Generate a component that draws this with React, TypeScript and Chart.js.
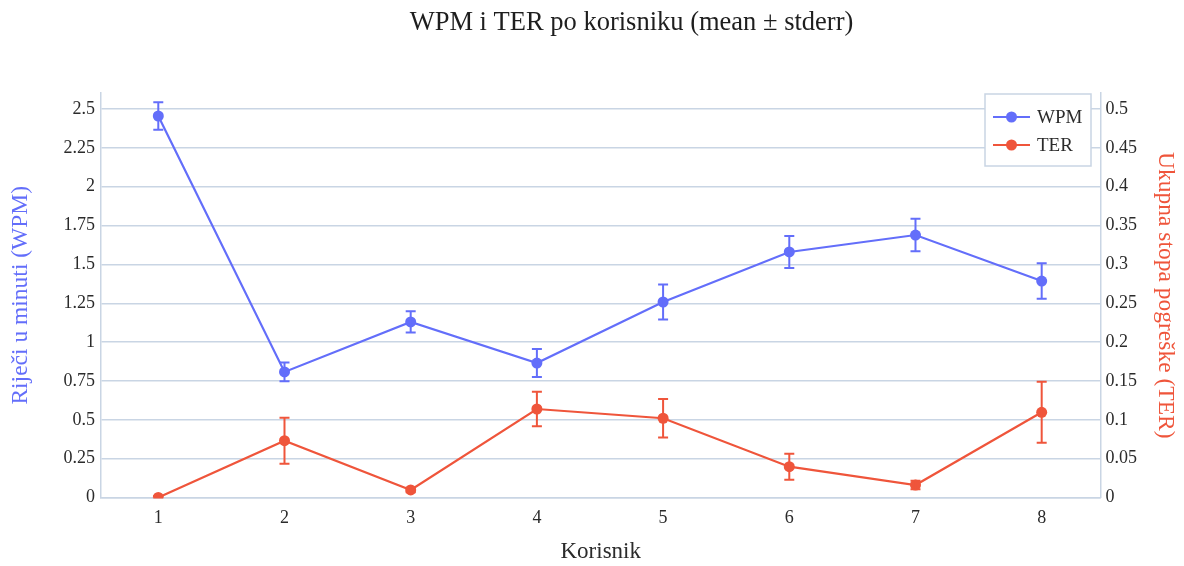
import React, { useEffect, useRef } from "react";
import { Chart, registerables } from "chart.js";

Chart.register(...registerables);

const users = [1, 2, 3, 4, 5, 6, 7, 8];
const wpmMean = [2.455, 0.808, 1.13, 0.865, 1.258, 1.58, 1.689, 1.393];
const wpmErr = [0.088, 0.06, 0.068, 0.09, 0.113, 0.103, 0.105, 0.114];
const terMean = [0.0, 0.0731, 0.0097, 0.1139, 0.102, 0.0397, 0.0161, 0.1097];
const terErr = [0.002, 0.0296, 0.003, 0.0223, 0.0249, 0.0167, 0.0055, 0.0393];
const xTicks = [1, 2, 3, 4, 5, 6, 7, 8];
const wpmTicks = [0, 0.25, 0.5, 0.75, 1, 1.25, 1.5, 1.75, 2, 2.25, 2.5];
const terTicks = [0, 0.05, 0.1, 0.15, 0.2, 0.25, 0.3, 0.35, 0.4, 0.45, 0.5];
const titleText = "WPM i TER po korisniku (mean ± stderr)";

const BLUE = "#636efa";
const RED = "#ef553b";
const GRID = "#c9d5e4";
const FONT = '"Liberation Serif", "Times New Roman", serif';
const TXT = "#2b2b2b";

const fmt = (v: number) => String(+Number(v).toFixed(4));

const errorBars = {
  id: "errorBars",
  afterDatasetsDraw(chart: any) {
    const ctx = chart.ctx;
    const errs = [wpmErr, terErr];
    chart.data.datasets.forEach((ds: any, i: number) => {
      const meta = chart.getDatasetMeta(i);
      const xs = chart.scales[meta.xAxisID];
      const ys = chart.scales[meta.yAxisID];
      ctx.save();
      ctx.strokeStyle = ds.borderColor;
      ctx.lineWidth = 2;
      (ds.data as any[]).forEach((p: any, j: number) => {
        const x = xs.getPixelForValue(p.x);
        const yt = ys.getPixelForValue(p.y + errs[i][j]);
        const yb = ys.getPixelForValue(Math.max(p.y - errs[i][j], ys.min));
        ctx.beginPath();
        ctx.moveTo(x, yt);
        ctx.lineTo(x, yb);
        ctx.moveTo(x - 5, yt);
        ctx.lineTo(x + 5, yt);
        ctx.moveTo(x - 5, yb);
        ctx.lineTo(x + 5, yb);
        ctx.stroke();
      });
      ctx.restore();
    });
  },
};

const boxLegendAndTitle = {
  id: "boxLegendAndTitle",
  afterDraw(chart: any) {
    const ctx = chart.ctx;
    ctx.save();
    ctx.fillStyle = "#1e1e1e";
    ctx.font = `26.5px ${FONT}`;
    ctx.textAlign = "center";
    ctx.textBaseline = "middle";
    ctx.fillText(titleText, 631.5, 23);

    const x0 = 985, y0 = 94, w = 106, h = 72;
    ctx.fillStyle = "#ffffff";
    ctx.fillRect(x0, y0, w, h);
    ctx.strokeStyle = GRID;
    ctx.lineWidth = 1.5;
    ctx.strokeRect(x0, y0, w, h);
    chart.data.datasets.forEach((ds: any, i: number) => {
      const y = y0 + 23 + i * 28;
      ctx.strokeStyle = ds.borderColor;
      ctx.lineWidth = 2;
      ctx.beginPath();
      ctx.moveTo(993, y);
      ctx.lineTo(1030, y);
      ctx.stroke();
      ctx.fillStyle = ds.borderColor;
      ctx.beginPath();
      ctx.arc(1011.5, y, 5.5, 0, Math.PI * 2);
      ctx.fill();
      ctx.fillStyle = TXT;
      ctx.font = `19px ${FONT}`;
      ctx.textAlign = "left";
      ctx.textBaseline = "middle";
      ctx.fillText(ds.label, 1037, y + 1);
    });
    ctx.restore();
  },
};

export default function App() {
  const ref = useRef<HTMLCanvasElement | null>(null);
  useEffect(() => {
    document.body.style.margin = "0";
    if (!ref.current) return;
    const chart = new Chart(ref.current, {
      type: "line",
      data: {
        datasets: [
          {
            label: "WPM",
            data: users.map((u, i) => ({ x: u, y: wpmMean[i] })),
            borderColor: BLUE,
            backgroundColor: BLUE,
            pointBackgroundColor: BLUE,
            pointBorderWidth: 0,
            pointRadius: 5.5,
            borderWidth: 2.2,
            yAxisID: "y",
          },
          {
            label: "TER",
            data: users.map((u, i) => ({ x: u, y: terMean[i] })),
            borderColor: RED,
            backgroundColor: RED,
            pointBackgroundColor: RED,
            pointBorderWidth: 0,
            pointRadius: 5.5,
            borderWidth: 2.2,
            yAxisID: "y1",
          },
        ],
      },
      options: {
        animation: false,
        responsive: true,
        maintainAspectRatio: false,
        layout: { padding: { top: 93, left: 0, right: 0, bottom: 0 } },
        plugins: {
          legend: { display: false },
          tooltip: { enabled: false },
          title: { display: false },
        },
        scales: {
          x: {
            type: "linear",
            min: 0.546,
            max: 8.466,
            afterBuildTicks: (s: any) => {
              s.ticks = xTicks.map((v) => ({ value: v }));
            },
            afterFit: (s: any) => {
              s.height = 68.5;
            },
            grid: { display: false, drawTicks: false },
            border: { display: true, color: GRID, width: 1.5 },
            ticks: {
              color: TXT,
              font: { family: FONT, size: 18 },
              padding: 10,
              callback: (v: any) => fmt(v),
            },
            title: {
              display: true,
              text: "Korisnik",
              color: TXT,
              font: { family: FONT, size: 23 },
              padding: { top: 0, bottom: 0 },
            },
          },
          y: {
            type: "linear",
            position: "left",
            min: 0,
            max: 2.603,
            afterBuildTicks: (s: any) => {
              s.ticks = wpmTicks.map((v) => ({ value: v }));
            },
            afterFit: (s: any) => {
              s.width = 101;
            },
            grid: { display: true, color: GRID, lineWidth: 1.5, drawTicks: false },
            border: { display: true, color: GRID, width: 1.5 },
            ticks: {
              color: TXT,
              font: { family: FONT, size: 18 },
              padding: 6,
              callback: (v: any) => fmt(v),
            },
            title: {
              display: true,
              text: "Riječi u minuti (WPM)",
              color: BLUE,
              font: { family: FONT, size: 23.5 },
              padding: { top: 7, bottom: 0 },
            },
          },
          y1: {
            type: "linear",
            position: "right",
            min: 0,
            max: 0.5206,
            afterBuildTicks: (s: any) => {
              s.ticks = terTicks.map((v) => ({ value: v }));
            },
            afterFit: (s: any) => {
              s.width = 83.5;
            },
            grid: { display: false, drawTicks: false },
            border: { display: true, color: GRID, width: 1.5 },
            ticks: {
              color: TXT,
              font: { family: FONT, size: 18 },
              padding: 5,
              callback: (v: any) => fmt(v),
            },
            title: {
              display: true,
              text: "Ukupna stopa pogreške (TER)",
              color: RED,
              font: { family: FONT, size: 23.5 },
              padding: { top: 5, bottom: 0 },
            },
          },
        },
      },
      plugins: [errorBars, boxLegendAndTitle],
    } as any);
    return () => chart.destroy();
  }, []);
  return (
    <div style={{ position: "absolute", left: 0, top: 0, width: 1184, height: 566 }}>
      <canvas ref={ref} />
    </div>
  );
}
